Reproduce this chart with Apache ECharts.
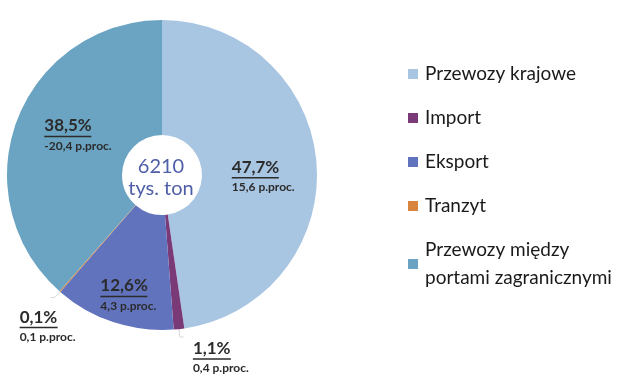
<!DOCTYPE html>
<html><head><meta charset="utf-8">
<script src="https://cdn.jsdelivr.net/npm/echarts@6/dist/echarts.min.js"></script>
<style>html,body{margin:0;padding:0;background:#fff}#c{width:627px;height:386px}</style>
</head><body><div id="c"></div>
<script>
const categories = ['Przewozy krajowe', 'Import', 'Eksport', 'Tranzyt', 'Przewozy między portami zagranicznymi'];
const shares = [47.7, 1.1, 12.6, 0.1, 38.5];
const shareLabels = ['47,7%', '1,1%', '12,6%', '0,1%', '38,5%'];
const changeLabels = ['15,6', '0,4', '4,3', '0,1', '-20,4'];
const totalLabel = ['6210', 'tys. ton'];
const colors = ['#a8c5e1', '#7a3a77', '#6273be', '#d8863f', '#6ba4c2'];
const outside = [false, true, false, true, false];

const FONT = 'Lato';
const ctx = document.createElement('canvas').getContext('2d');
ctx.font = 'bold 17px ' + FONT;
const rich = {
  p: { fontFamily: FONT, fontWeight: 'bold', fontSize: 17, color: '#2b2b2b', lineHeight: 17, align: 'left' },
  s: { fontFamily: FONT, fontWeight: 'bold', fontSize: 12, color: '#2b2b2b', lineHeight: 15, align: 'left' }
};
shareLabels.forEach((t, i) => {
  rich['u' + i] = { width: Math.round(ctx.measureText(t).width), height: 1.5, lineHeight: 4, backgroundColor: '#2b2b2b', align: 'left' };
});

const data = categories.map((n, i) => ({
  name: n, value: shares[i],
  itemStyle: { color: colors[i] },
  label: outside[i] ? { position: 'outside' } : { position: 'inside' },
  labelLine: { show: outside[i] }
}));

const dxy = [[1, 9], [4, 21], [-2, 25], [30, 29], [10, -4]];

const chart = echarts.init(document.getElementById('c'), null, { renderer: 'canvas' });
chart.setOption({
  backgroundColor: '#ffffff',
  animation: false,
  legend: {
    orient: 'vertical', left: 403, top: 55,
    itemWidth: 10, itemHeight: 10, itemGap: 16,
    icon: 'rect',
    data: categories,
    formatter: n => n.replace(' portami', '\nportami'),
    textStyle: { fontFamily: FONT, fontSize: 19, color: '#1a1a1a', lineHeight: 28, padding: [0, 0, 0, 2] }
  },
  graphic: [{
    type: 'text', x: 161, y: 178,
    style: { text: totalLabel.join('\n'), align: 'center', verticalAlign: 'middle', fontFamily: FONT, fontSize: 20, lineHeight: 22, fill: '#4f5ea8' }
  }],
  series: [{
    type: 'pie',
    center: [162, 175],
    radius: [40, 155],
    startAngle: 90,
    clockwise: true,
    avoidLabelOverlap: false,
    data: data,
    label: {
      formatter: p => '{p|' + shareLabels[p.dataIndex] + '}\n{u' + p.dataIndex + '|}\n{s|' + changeLabels[p.dataIndex] + ' p.proc.}',
      rich: rich
    },
    labelLine: { length: 8, length2: 4, lineStyle: { color: '#d8d8d8', width: 1 } },
    labelLayout: p => ({ dx: dxy[p.dataIndex][0], dy: dxy[p.dataIndex][1] })
  }]
});
</script></body></html>
